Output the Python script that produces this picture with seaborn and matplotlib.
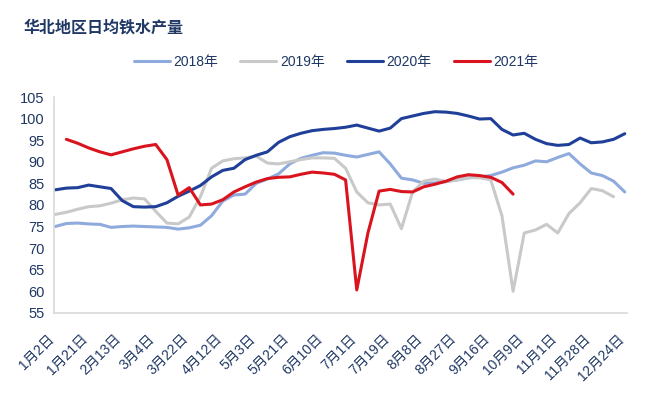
import numpy as np
import pandas as pd
import matplotlib
matplotlib.use('Agg')
import matplotlib.pyplot as plt
import matplotlib.transforms as mtransforms
import seaborn as sns

sns.set_style('white')
plt.rcParams['font.family'] = ['Liberation Sans', 'Noto Sans CJK SC']
plt.rcParams['axes.unicode_minus'] = False

# 横轴标签（每3个数据点显示一个）
tick_labels = ['1月2日', '1月21日', '2月13日', '3月4日', '3月22日', '4月12日',
               '5月3日', '5月21日', '6月10日', '7月1日', '7月19日', '8月8日',
               '8月27日', '9月16日', '10月9日', '11月1日', '11月28日', '12月24日']

years = ['2018年', '2019年', '2020年', '2021年']

# 各年份日均铁水产量（万吨），按周
y2018 = [75.0, 75.7, 75.8, 75.6, 75.5, 74.8, 75.0, 75.1, 75.0, 74.9, 74.8, 74.4, 74.7,
         75.3, 77.5, 80.9, 82.3, 82.5, 85.0, 86.0, 87.2, 89.5, 90.8, 91.5, 92.1, 92.0,
         91.5, 91.1, 91.7, 92.3, 89.5, 86.2, 85.8, 85.0, 85.1, 85.4, 85.8, 86.3, 86.5,
         86.8, 87.6, 88.6, 89.2, 90.2, 90.0, 91.0, 91.9, 89.5, 87.4, 86.8, 85.5, 83.0]
y2019 = [77.8, 78.3, 79.0, 79.6, 79.8, 80.4, 81.2, 81.6, 81.4, 78.5, 75.8, 75.6, 77.2,
         81.9, 88.5, 90.2, 90.7, 90.9, 91.3, 89.7, 89.5, 90.0, 90.5, 90.9, 90.9, 90.8,
         88.5, 83.0, 80.5, 80.0, 80.2, 74.5, 83.0, 85.5, 86.0, 85.4, 85.8, 86.3, 86.3,
         85.8, 77.5, 60.0, 73.5, 74.2, 75.5, 73.5, 78.0, 80.5, 83.8, 83.3, 81.9, np.nan]
y2020 = [83.5, 83.9, 84.0, 84.6, 84.2, 83.8, 81.0, 79.6, 79.5, 79.6, 80.5, 82.0, 83.2,
         84.5, 86.5, 88.0, 88.5, 90.5, 91.5, 92.3, 94.5, 95.8, 96.6, 97.2, 97.5, 97.7,
         98.0, 98.5, 97.8, 97.1, 97.8, 100.0, 100.6, 101.2, 101.6, 101.5, 101.2, 100.6,
         99.9, 100.0, 97.5, 96.2, 96.6, 95.2, 94.2, 93.8, 94.0, 95.5, 94.4, 94.6, 95.2, 96.5]
y2021 = [np.nan, 95.2, 94.3, 93.2, 92.3, 91.6, 92.3, 93.0, 93.6, 94.0, 90.5, 82.3, 84.0,
         80.0, 80.2, 81.2, 83.0, 84.2, 85.3, 86.1, 86.4, 86.5, 87.1, 87.6, 87.4, 87.1,
         85.8, 60.3, 73.5, 83.2, 83.6, 83.1, 83.0, 84.2, 84.8, 85.5, 86.5, 87.0, 86.8,
         86.4, 85.2, 82.5] + [np.nan] * 10

colors = {'2018年': '#8FAADC', '2019年': '#C9C9C9', '2020年': '#1F3F98', '2021年': '#D9141E'}
text_color = '#203864'

n = len(y2020)
df = pd.DataFrame({
    'idx': np.tile(np.arange(n), 4),
    'year': np.repeat(years, n),
    'value': y2018 + y2019 + y2020 + y2021,
}).dropna()

fig = plt.figure(figsize=(6.6, 3.96), dpi=100)
ax = fig.add_axes([0.082, 0.21, 0.868, 0.545])

sns.lineplot(data=df, x='idx', y='value', hue='year', palette=colors,
             linewidth=2.2, ax=ax)

ax.set_xlim(-0.1, 51.2)
ax.set_ylim(55, 105)
ax.set_yticks(range(55, 106, 5))
ax.set_xticks(range(0, n, 3))
ax.set_xticklabels(tick_labels, rotation=45, ha='right', rotation_mode='anchor')
ax.tick_params(axis='both', length=0, colors=text_color, labelsize=10)
ax.tick_params(axis='y', pad=7, labelsize=10.5)
ax.tick_params(axis='x', pad=12)
ax.set_xlabel('')
ax.set_ylabel('')

# 横轴标签整体左移一点
offset = mtransforms.ScaledTranslation(-0.08, -0.02, fig.dpi_scale_trans)
for lab in ax.get_xticklabels():
    lab.set_transform(lab.get_transform() + offset)

for s in ['top', 'right']:
    ax.spines[s].set_visible(False)
for s in ['left', 'bottom']:
    ax.spines[s].set_color('#D9D9D9')
    ax.spines[s].set_linewidth(1.2)

handles, labels = ax.get_legend_handles_labels()
ax.get_legend().remove()
fig.legend(handles, labels, loc='center', bbox_to_anchor=(0.509, 0.843), ncol=4,
           frameon=False, fontsize=10, handlelength=2.6, handletextpad=0.25,
           columnspacing=1.6, labelcolor=text_color)

fig.text(0.035, 1 - 27 / 396, '华北地区日均铁水产量', ha='left', va='center',
         fontsize=11.5, fontweight='bold', color=text_color,
         family=['Noto Sans CJK SC', 'DejaVu Sans'])

fig.savefig('out.png', dpi=100)
